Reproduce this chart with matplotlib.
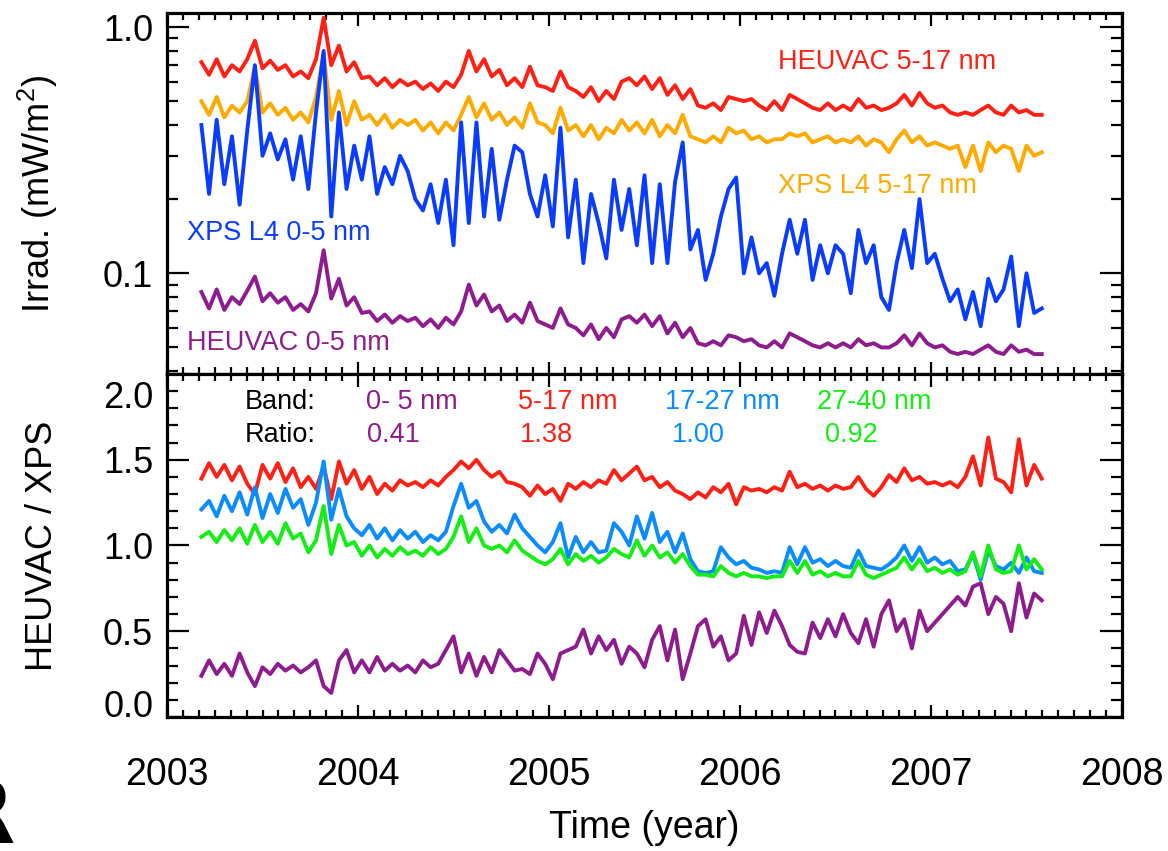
import numpy as np
import matplotlib
matplotlib.use('Agg')
import matplotlib.pyplot as plt
from matplotlib.ticker import MultipleLocator, LogLocator, NullFormatter
from matplotlib.transforms import ScaledTranslation

plt.rcParams['font.family'] = ['Liberation Sans', 'DejaVu Sans']
plt.rcParams['mathtext.default'] = 'regular'

# sample times (decimal year), ~2 week spacing
years = np.round(2003.18 + 0.04*np.arange(111), 2)

# band irradiance (mW/m^2)
heuvac_5_17 = [0.72, 0.64, 0.74, 0.63, 0.70, 0.66, 0.74, 0.88, 0.68, 0.73,
               0.67, 0.70, 0.63, 0.66, 0.62, 0.74, 1.09, 0.70, 0.84, 0.66,
               0.72, 0.62, 0.63, 0.58, 0.62, 0.57, 0.61, 0.58, 0.60, 0.56,
               0.59, 0.55, 0.60, 0.57, 0.64, 0.80, 0.66, 0.74, 0.63, 0.67,
               0.58, 0.62, 0.57, 0.69, 0.58, 0.57, 0.55, 0.66, 0.57, 0.55,
               0.52, 0.57, 0.50, 0.55, 0.51, 0.60, 0.62, 0.58, 0.63, 0.56,
               0.62, 0.53, 0.58, 0.51, 0.56, 0.48, 0.47, 0.49, 0.46, 0.52,
               0.51, 0.50, 0.51, 0.48, 0.46, 0.50, 0.46, 0.53, 0.51, 0.49,
               0.47, 0.46, 0.49, 0.46, 0.48, 0.46, 0.51, 0.47, 0.48, 0.46,
               0.47, 0.49, 0.53, 0.48, 0.54, 0.49, 0.47, 0.48, 0.45, 0.44,
               0.45, 0.44, 0.46, 0.48, 0.45, 0.44, 0.48, 0.45, 0.46, 0.44, 0.44]
xps_5_17 = [0.50, 0.44, 0.52, 0.43, 0.48, 0.45, 0.50, 0.69, 0.45, 0.49,
            0.44, 0.47, 0.42, 0.45, 0.41, 0.52, 0.78, 0.42, 0.55, 0.40,
            0.50, 0.42, 0.44, 0.40, 0.44, 0.39, 0.42, 0.40, 0.42, 0.38,
            0.41, 0.37, 0.41, 0.38, 0.44, 0.52, 0.43, 0.49, 0.42, 0.45,
            0.40, 0.43, 0.39, 0.49, 0.41, 0.40, 0.37, 0.47, 0.38, 0.40,
            0.36, 0.40, 0.35, 0.39, 0.37, 0.42, 0.38, 0.41, 0.37, 0.42,
            0.36, 0.40, 0.37, 0.44, 0.36, 0.35, 0.34, 0.36, 0.34, 0.39,
            0.37, 0.38, 0.35, 0.36, 0.34, 0.35, 0.35, 0.37, 0.36, 0.37,
            0.34, 0.35, 0.36, 0.34, 0.35, 0.34, 0.36, 0.33, 0.35, 0.34,
            0.31, 0.35, 0.38, 0.34, 0.36, 0.33, 0.34, 0.33, 0.32, 0.33,
            0.27, 0.33, 0.26, 0.34, 0.31, 0.33, 0.32, 0.26, 0.33, 0.30, 0.31]
xps_0_5 = [0.40, 0.21, 0.42, 0.23, 0.36, 0.19, 0.38, 0.70, 0.30, 0.37,
           0.29, 0.35, 0.24, 0.36, 0.22, 0.45, 0.80, 0.17, 0.45, 0.22,
           0.33, 0.24, 0.36, 0.21, 0.27, 0.23, 0.30, 0.26, 0.20, 0.18,
           0.23, 0.16, 0.24, 0.13, 0.41, 0.16, 0.41, 0.17, 0.32, 0.165,
           0.24, 0.33, 0.31, 0.21, 0.17, 0.25, 0.155, 0.39, 0.14, 0.24,
           0.11, 0.21, 0.16, 0.115, 0.24, 0.15, 0.22, 0.13, 0.25, 0.11,
           0.23, 0.11, 0.235, 0.34, 0.125, 0.15, 0.094, 0.12, 0.17, 0.22,
           0.245, 0.10, 0.14, 0.10, 0.11, 0.081, 0.12, 0.165, 0.12, 0.165,
           0.094, 0.13, 0.10, 0.13, 0.12, 0.083, 0.15, 0.11, 0.13, 0.08,
           0.071, 0.11, 0.15, 0.105, 0.20, 0.11, 0.12, 0.095, 0.077, 0.086,
           0.065, 0.084, 0.061, 0.095, 0.077, 0.086, 0.117, 0.061, 0.10, 0.069, 0.072]
heuvac_0_5 = [0.084, 0.072, 0.086, 0.071, 0.080, 0.075, 0.085, 0.097, 0.077, 0.083,
              0.076, 0.080, 0.071, 0.075, 0.070, 0.083, 0.124, 0.079, 0.095, 0.074,
              0.080, 0.069, 0.070, 0.064, 0.068, 0.063, 0.067, 0.064, 0.066, 0.061,
              0.065, 0.060, 0.066, 0.062, 0.070, 0.090, 0.074, 0.082, 0.070, 0.074,
              0.064, 0.068, 0.063, 0.076, 0.064, 0.062, 0.060, 0.072, 0.062, 0.060,
              0.056, 0.062, 0.054, 0.060, 0.055, 0.065, 0.067, 0.063, 0.068, 0.061,
              0.067, 0.057, 0.063, 0.055, 0.060, 0.052, 0.051, 0.053, 0.051, 0.056,
              0.055, 0.053, 0.054, 0.051, 0.050, 0.053, 0.050, 0.057, 0.055, 0.053,
              0.051, 0.050, 0.052, 0.050, 0.052, 0.050, 0.054, 0.051, 0.052, 0.050,
              0.050, 0.052, 0.056, 0.051, 0.057, 0.052, 0.050, 0.051, 0.048, 0.047,
              0.048, 0.047, 0.049, 0.051, 0.048, 0.047, 0.051, 0.048, 0.049, 0.047, 0.047]

# HEUVAC / XPS ratios per band
ratio_0_5 = [0.24, 0.33, 0.25, 0.31, 0.24, 0.37, 0.26, 0.18, 0.29, 0.25,
             0.31, 0.27, 0.30, 0.26, 0.29, 0.33, 0.18, 0.14, 0.33, 0.39,
             0.26, 0.33, 0.26, 0.35, 0.27, 0.31, 0.27, 0.30, 0.26, 0.33,
             0.29, 0.31, 0.39, 0.47, 0.26, 0.37, 0.24, 0.35, 0.26, 0.39,
             0.33, 0.27, 0.28, 0.25, 0.37, 0.31, 0.22, 0.37, 0.39, 0.41,
             0.51, 0.37, 0.47, 0.39, 0.45, 0.31, 0.41, 0.37, 0.29, 0.45,
             0.53, 0.33, 0.51, 0.22, 0.37, 0.53, 0.57, 0.41, 0.47, 0.33,
             0.37, 0.59, 0.42, 0.61, 0.49, 0.62, 0.53, 0.42, 0.38, 0.37,
             0.55, 0.46, 0.57, 0.47, 0.60, 0.49, 0.43, 0.57, 0.41, 0.60,
             0.68, 0.50, 0.57, 0.40, 0.62, 0.50, 0.55, 0.60, 0.65, 0.70,
             0.65, 0.76, 0.78, 0.60, 0.70, 0.66, 0.50, 0.78, 0.58, 0.72, 0.68]
ratio_5_17 = [1.39, 1.48, 1.40, 1.47, 1.38, 1.46, 1.36, 1.30, 1.47, 1.39,
              1.48, 1.37, 1.45, 1.34, 1.40, 1.33, 1.46, 1.27, 1.49, 1.36,
              1.44, 1.33, 1.40, 1.30, 1.36, 1.32, 1.38, 1.35, 1.37, 1.34,
              1.38, 1.35, 1.40, 1.44, 1.49, 1.45, 1.50, 1.44, 1.40, 1.43,
              1.37, 1.36, 1.34, 1.29, 1.35, 1.30, 1.33, 1.26, 1.36, 1.33,
              1.37, 1.34, 1.38, 1.36, 1.44, 1.38, 1.42, 1.46, 1.38, 1.40,
              1.34, 1.37, 1.32, 1.30, 1.27, 1.31, 1.28, 1.34, 1.31, 1.36,
              1.24, 1.34, 1.32, 1.33, 1.31, 1.34, 1.32, 1.43, 1.34, 1.36,
              1.33, 1.35, 1.32, 1.35, 1.33, 1.34, 1.40, 1.33, 1.29, 1.34,
              1.41, 1.37, 1.45, 1.38, 1.40, 1.36, 1.37, 1.35, 1.37, 1.34,
              1.40, 1.52, 1.35, 1.63, 1.39, 1.37, 1.31, 1.62, 1.35, 1.47, 1.39]
ratio_17_27 = [1.21, 1.26, 1.17, 1.29, 1.20, 1.31, 1.18, 1.34, 1.16, 1.30,
               1.19, 1.33, 1.22, 1.27, 1.12, 1.25, 1.49, 1.15, 1.33, 1.17,
               1.10, 1.06, 1.12, 1.04, 1.10, 1.03, 1.09, 1.04, 1.08, 1.02,
               1.06, 1.03, 1.08, 1.23, 1.36, 1.22, 1.26, 1.14, 1.08, 1.12,
               1.07, 1.18, 1.10, 1.05, 1.00, 0.96, 1.02, 1.13, 0.93, 1.05,
               0.96, 1.02, 0.96, 0.97, 1.13, 1.08, 1.00, 1.17, 1.04, 1.19,
               1.02, 1.08, 0.96, 1.07, 0.92, 0.85, 0.84, 0.85, 0.99, 0.93,
               0.89, 0.91, 0.87, 0.86, 0.84, 0.85, 0.84, 0.99, 0.89, 0.99,
               0.90, 0.92, 0.88, 0.91, 0.88, 0.87, 0.97, 0.88, 0.87, 0.86,
               0.89, 0.93, 1.00, 0.91, 0.99, 0.90, 0.93, 0.89, 0.91, 0.85,
               0.86, 0.95, 0.80, 0.97, 0.88, 0.86, 0.90, 0.84, 0.93, 0.85, 0.84]
ratio_27_40 = [1.05, 1.08, 1.02, 1.09, 1.03, 1.10, 1.01, 1.12, 1.02, 1.08,
               1.01, 1.13, 1.04, 1.07, 0.96, 1.03, 1.23, 0.95, 1.12, 1.00,
               1.02, 0.94, 1.00, 0.93, 0.98, 0.94, 0.99, 0.95, 0.97, 0.94,
               0.99, 0.95, 0.98, 1.05, 1.17, 1.02, 1.10, 1.00, 0.98, 1.00,
               0.96, 1.03, 0.97, 0.94, 0.91, 0.89, 0.92, 0.98, 0.89, 0.95,
               0.91, 0.94, 0.90, 0.93, 0.98, 0.95, 0.93, 1.03, 0.94, 1.00,
               0.93, 0.96, 0.90, 0.95, 0.88, 0.83, 0.83, 0.82, 0.88, 0.84,
               0.82, 0.84, 0.82, 0.82, 0.81, 0.82, 0.82, 0.91, 0.84, 0.91,
               0.83, 0.85, 0.82, 0.84, 0.82, 0.82, 0.91, 0.83, 0.81, 0.83,
               0.85, 0.87, 0.93, 0.86, 0.92, 0.85, 0.87, 0.84, 0.86, 0.83,
               0.85, 0.96, 0.82, 1.00, 0.86, 0.84, 0.85, 1.00, 0.86, 0.92, 0.86]

bands = ['0- 5 nm', '5-17 nm', '17-27 nm', '27-40 nm']
mean_ratios = ['0.41', '1.38', '1.00', '0.92']

c_red = '#ff2015'
c_orange = '#ffaa00'
c_blue = '#0a3cff'
c_purple = '#8e1c8e'
c_lblue = '#0a8cff'
c_green = '#14ee14'
lw = 2.8

fig = plt.figure(figsize=(11.68, 8.51), dpi=100)
ax1 = fig.add_axes([0.143, 0.5605, 0.8176, 0.4242])
ax2 = fig.add_axes([0.143, 0.1575, 0.8176, 0.4030])

# top: band irradiances
ax1.plot(years, heuvac_0_5, color=c_purple, lw=lw)
ax1.plot(years, heuvac_5_17, color=c_red, lw=lw)
ax1.plot(years, xps_5_17, color=c_orange, lw=lw)
ax1.plot(years, xps_0_5, color=c_blue, lw=lw)
ax1.set_yscale('log')
ax1.set_ylim(0.039, 1.14)
ax1.set_yticks([0.1, 1.0])
ax1.set_yticklabels(['0.1', '1.0'])
ax1.yaxis.set_minor_locator(LogLocator(base=10, subs=np.arange(2, 10)))
ax1.yaxis.set_minor_formatter(NullFormatter())
ax1.set_ylabel('Irrad. (mW/m$^2$)', fontsize=26)
ax1.tick_params(labelbottom=False)

tk = dict(fontsize=19.5, va='center', transform=ax1.transAxes)
ax1.text((778-167)/955, (374-62)/361, 'HEUVAC 5-17 nm', color=c_red, **tk)
ax1.text((778-167)/955, (374-186)/361, 'XPS L4 5-17 nm', color=c_orange, **tk)
ax1.text((187-167)/955, (374-233)/361, 'XPS L4 0-5 nm', color=c_blue, **tk)
ax1.text((187-167)/955, (374-343)/361, 'HEUVAC 0-5 nm', color=c_purple, **tk)

# bottom: HEUVAC / XPS ratios
ax2.plot(years, ratio_0_5, color=c_purple, lw=lw)
ax2.plot(years, ratio_5_17, color=c_red, lw=lw)
ax2.plot(years, ratio_17_27, color=c_lblue, lw=lw)
ax2.plot(years, ratio_27_40, color=c_green, lw=lw)
ax2.set_ylim(0, 2.0)
ax2.set_yticks([0.0, 0.5, 1.0, 1.5, 2.0])
ax2.set_yticklabels(['0.0', '0.5', '1.0', '1.5', '2.0'])
ax2.yaxis.set_minor_locator(MultipleLocator(0.1))
ax2.set_ylabel('HEUVAC / XPS', fontsize=26)
ax2.set_xlabel('Time (year)', fontsize=27)

bk = dict(fontsize=19.5, va='center', transform=ax2.transAxes)
ax2.text((245-167)/955, (717-402)/343, 'Band:', color='black', **bk)
ax2.text((245-167)/955, (717-435)/343, 'Ratio:', color='black', **bk)
band_x = [366, 518, 665, 817]
ratio_x = [367, 520, 672, 825]
for name, r, bx, rx, col in zip(bands, mean_ratios, band_x, ratio_x,
                                [c_purple, c_red, c_lblue, c_green]):
    ax2.text((bx-167)/955, (717-402)/343, name, color=col, **bk)
    ax2.text((rx-167)/955, (717-435)/343, r, color=col, **bk)

for ax in (ax1, ax2):
    ax.set_xlim(2003, 2008)
    ax.xaxis.set_major_locator(MultipleLocator(1))
    ax.xaxis.set_minor_locator(MultipleLocator(1/12))
    ax.tick_params(which='both', direction='in', top=True, right=True,
                   width=1.6, labelsize=26)
    ax.tick_params(axis='x', which='major', length=9)
    ax.tick_params(axis='x', which='minor', length=5)
    ax.tick_params(axis='y', which='major', length=16, pad=10)
    ax.tick_params(axis='y', which='minor', length=8)
    for s in ax.spines.values():
        s.set_linewidth(2.3)
    ax.yaxis.set_label_coords(-0.112, 0.5)

ax2.tick_params(axis='x', which='major', pad=29, labelsize=27)
ax2.xaxis.set_label_coords(0.5, -0.27)

# keep end labels inside the panel
for lab in ax2.get_yticklabels():
    if lab.get_text() == '2.0':
        lab.set_verticalalignment('top')
        lab.set_transform(lab.get_transform() +
                          ScaledTranslation(0, -0.07, fig.dpi_scale_trans))
    elif lab.get_text() == '0.0':
        lab.set_verticalalignment('baseline')

fig.text(15/1168, 1 - 843/851, 'R', ha='right', va='baseline', fontsize=63,
         fontweight='bold', family='DejaVu Sans')

fig.savefig('out.png', dpi=100)
